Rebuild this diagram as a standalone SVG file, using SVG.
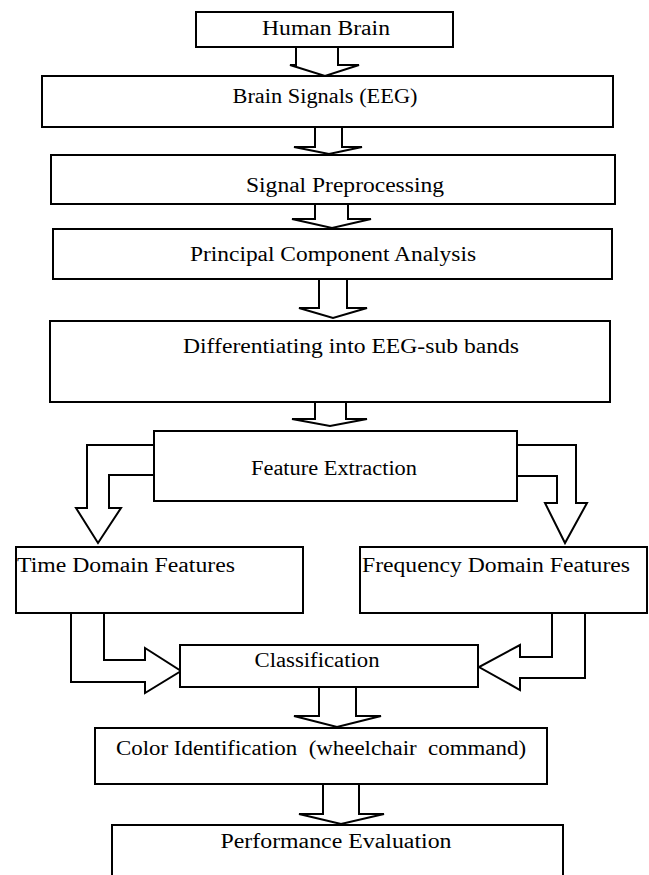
<svg xmlns="http://www.w3.org/2000/svg" width="649" height="875" viewBox="0 0 649 875">
<style>
.box{fill:#fff;stroke:#000;stroke-width:2}
.arr{fill:#fff;stroke:#000;stroke-width:2;stroke-linejoin:miter}
.t{font-family:'Liberation Serif','Times New Roman',Times,serif;font-size:20px;fill:#000}
.c{text-anchor:middle}
</style>
<rect width="649" height="875" fill="#fff"/>
<g id="connectors">
<path class="arr" d="M296,47 V65 H290 L325,76 L359,65 H338 V47"/>
<path class="arr" d="M315,127 V147 H294 L329,154 L362,147 H342 V127"/>
<path class="arr" d="M315,204 V219 H292 L332,228 L371,219 H348 V204"/>
<path class="arr" d="M319,279 V308 H299 L333,318 L367,308 H347 V279"/>
<path class="arr" d="M315,402 V419 H292 L330,426 L367,419 H346 V402"/>
<path class="arr" d="M154,445 H87 V508 H76 L98,543 L121,508 H109 V475 H154"/>
<path class="arr" d="M517,445 H576 V503 H587 L565,543 L545,503 H557 V476 H517"/>
<path class="arr" d="M71,613 V682 H145 V693 L181,671 L145,648 V660 H104 V613"/>
<path class="arr" d="M585,613 V678 H520 V690 L479,667 L520,645 V657 H552 V613"/>
<path class="arr" d="M319,687 V716 H294 L337,727 L381,716 H356 V687"/>
<path class="arr" d="M323,784 V814 H299 L341,824 L384,814 H359 V784"/>
</g>
<g id="human-brain"><rect class="box" x="196" y="12" width="257" height="35"/><text class="t c" x="326" y="35" textLength="128" lengthAdjust="spacingAndGlyphs">Human Brain</text></g>
<g id="brain-signals"><rect class="box" x="42" y="76" width="571" height="51"/><text class="t c" x="325" y="103" textLength="185" lengthAdjust="spacingAndGlyphs">Brain Signals (EEG)</text></g>
<g id="signal-preprocessing"><rect class="box" x="51" y="155" width="564" height="49"/><text class="t c" x="345" y="192" textLength="198" lengthAdjust="spacingAndGlyphs">Signal Preprocessing</text></g>
<g id="pca"><rect class="box" x="53" y="229" width="559" height="50"/><text class="t c" x="333" y="261" textLength="286" lengthAdjust="spacingAndGlyphs">Principal Component Analysis</text></g>
<g id="sub-bands"><rect class="box" x="50" y="321" width="560" height="81"/><text class="t c" x="351" y="353" textLength="336" lengthAdjust="spacingAndGlyphs">Differentiating into EEG-sub bands</text></g>
<g id="feature-extraction"><rect class="box" x="154" y="431" width="363" height="70"/><text class="t c" x="334" y="475" textLength="166" lengthAdjust="spacingAndGlyphs">Feature Extraction</text></g>
<g id="time-domain"><rect class="box" x="16" y="547" width="287" height="66"/><text class="t" x="17" y="572" textLength="218" lengthAdjust="spacingAndGlyphs">Time Domain Features</text></g>
<g id="frequency-domain"><rect class="box" x="360" y="547" width="287" height="66"/><text class="t" x="362" y="572" textLength="268" lengthAdjust="spacingAndGlyphs">Frequency Domain Features</text></g>
<g id="classification"><rect class="box" x="180" y="645" width="298" height="42"/><text class="t c" x="317" y="667" textLength="125" lengthAdjust="spacingAndGlyphs">Classification</text></g>
<g id="color-identification"><rect class="box" x="95" y="728" width="452" height="56"/><text class="t c" x="321" y="755" textLength="410" lengthAdjust="spacingAndGlyphs" xml:space="preserve">Color Identification  (wheelchair  command)</text></g>
<g id="performance-evaluation"><rect class="box" x="112" y="825" width="451" height="60"/><text class="t c" x="336" y="848" textLength="231" lengthAdjust="spacingAndGlyphs">Performance Evaluation</text></g>
</svg>
